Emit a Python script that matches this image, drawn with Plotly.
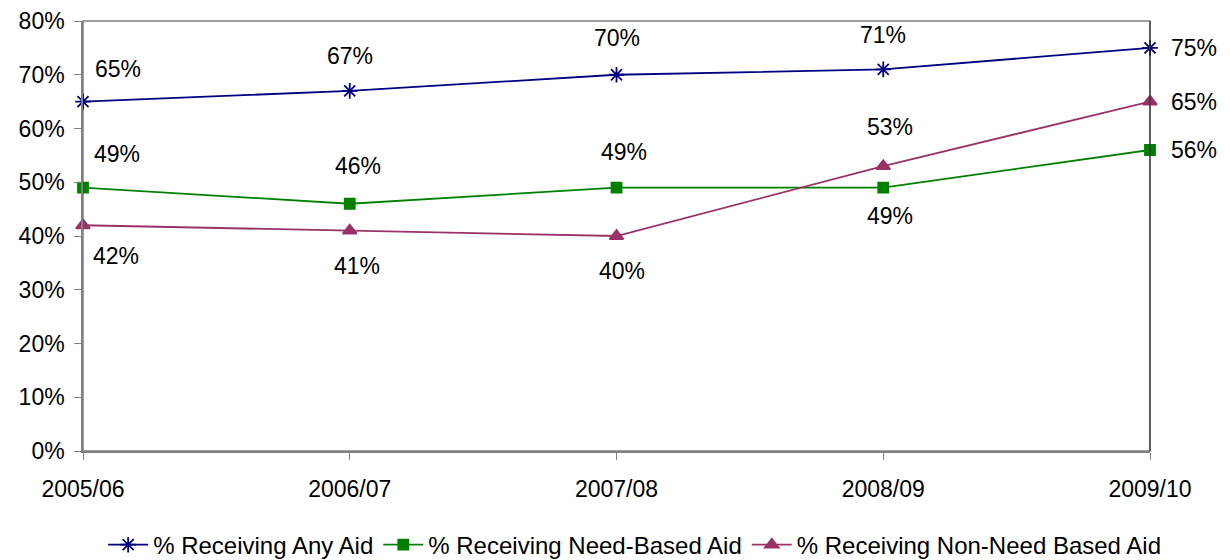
import plotly.graph_objects as go

years = ["2005/06", "2006/07", "2007/08", "2008/09", "2009/10"]
any_aid = [65, 67, 70, 71, 75]
need_based = [49, 46, 49, 49, 56]
non_need = [42, 41, 40, 53, 65]
y_ticks = [0, 10, 20, 30, 40, 50, 60, 70, 80]

names = ["% Receiving Any Aid", "% Receiving Need-Based Aid", "% Receiving Non-Need Based Aid"]
colors = ["#000080", "#008000", "#993366"]
symbols = ["asterisk-open", "square", "triangle-up"]
sizes = [13, 10, 12]

# label offsets (x shift, y shift) per series per point
any_off = [(35, 33), (0, 35), (0, 37), (0, 34), (44, 0)]
need_off = [(34, 34), (8, 38), (7, 36), (7, -28), (44, 0)]
non_off = [(33, -31), (7, -35), (5, -35), (7, 39), (44, 0)]

FONT = "Liberation Sans, Arial, sans-serif"
xs = list(range(len(years)))

fig = go.Figure()
for vals, name, c, s, sz in zip([any_aid, need_based, non_need], names, colors, symbols, sizes):
    fig.add_trace(go.Scatter(
        x=xs, y=vals, name=name, mode="lines+markers",
        line=dict(color=c, width=1.8),
        marker=dict(symbol=s, size=sz, color=c, line=dict(color=c, width=1.8)),
        cliponaxis=False,
    ))

for vals, offs in zip([any_aid, need_based, non_need], [any_off, need_off, non_off]):
    for i, (v, (dx, dy)) in enumerate(zip(vals, offs)):
        fig.add_annotation(x=xs[i], y=v, text=f"{v}%", showarrow=False,
                           xshift=dx, yshift=dy,
                           font=dict(family=FONT, size=23, color="#000000"))

fig.update_layout(
    width=1222, height=552,
    margin=dict(l=75, r=80, t=13, b=109, autoexpand=False),
    paper_bgcolor="white", plot_bgcolor="white",
    font=dict(family=FONT, size=23, color="#000000"),
    showlegend=True,
    legend=dict(orientation="h", x=0.517, xanchor="center", xref="paper",
                y=0.027, yanchor="middle", yref="container",
                font=dict(family=FONT, size=24), itemwidth=40, traceorder="normal"),
    shapes=[dict(type="rect", xref="paper", yref="paper", x0=0, x1=1, y0=0, y1=1,
                 line=dict(color="#808080", width=1.5), layer="below"),
            dict(type="line", xref="paper", yref="paper", x0=1, x1=1, y0=0, y1=1,
                 line=dict(color="#333333", width=1.2))],
)
fig.update_xaxes(range=[0, 4], tickvals=xs, ticktext=years, showgrid=False, zeroline=False,
                 ticks="outside", ticklen=7, tickcolor="#808080", showline=True,
                 linecolor="#808080", linewidth=1.5, tickfont=dict(size=23), ticklabelstandoff=10,
                 automargin=False)
fig.update_yaxes(range=[0, 80], tickvals=y_ticks, ticktext=[f"{t}%" for t in y_ticks],
                 showgrid=False, zeroline=False, ticks="outside", ticklen=7, tickcolor="#808080",
                 showline=True, linecolor="#808080", linewidth=1.5, tickfont=dict(size=23),
                 ticklabelstandoff=5, automargin=False)

fig.write_html("out.html")
